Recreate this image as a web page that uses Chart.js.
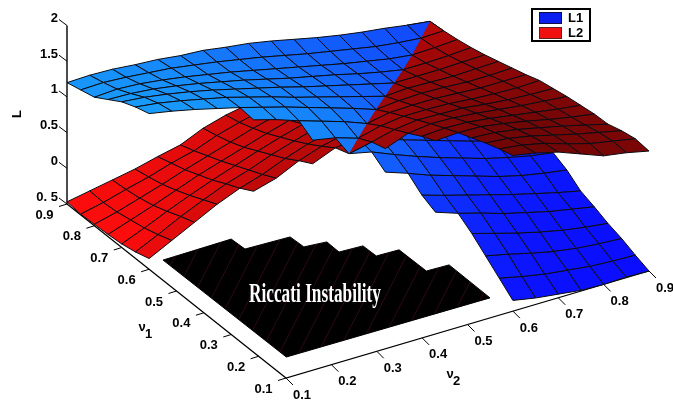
<!DOCTYPE html>
<html>
<head>
<meta charset="utf-8">
<style>
html, body { margin: 0; padding: 0; background: #fff; }
#wrap { width: 673px; height: 401px; position: relative; }
</style>
<script src="https://cdn.jsdelivr.net/npm/chart.js@4"></script>
</head>
<body>
<div id="wrap"><canvas id="chart" width="673" height="401"></canvas></div>
<script>
const v1Values = [0.1,0.15,0.2,0.25,0.3,0.35,0.4,0.45,0.5,0.55,0.6,0.65,0.7,0.75,0.8,0.85,0.9];
const v2Values = [0.1,0.15,0.2,0.25,0.3,0.35,0.4,0.45,0.5,0.55,0.6,0.65,0.7,0.75,0.8,0.85,0.9];
const v1Ticks = [0.1,0.2,0.3,0.4,0.5,0.6,0.7,0.8,0.9];
const v2Ticks = [0.1,0.2,0.3,0.4,0.5,0.6,0.7,0.8,0.9];
const zTicks = [-0.5,0,0.5,1,1.5,2];
const zTickLabels = ['0. 5','0','0.5','1','1.5','2'];

const N = null;
// rows: v1 from 0.1 to 0.9, columns: v2 from 0.1 to 0.9, null = unstable
const L1 = [
  [N,N,N,N,N,N,N,N,N,N,-.35,-.41,-.45,-.49,-.50,-.49,-.50],
  [N,N,N,N,N,N,N,N,N,N,-.19,-.26,-.32,-.36,-.40,-.42,-.43],
  [N,N,N,N,N,N,N,N,N,N,-.03,-.10,-.18,-.25,-.30,-.33,-.35],
  [N,N,N,N,N,N,N,N,N,N,.13,.04,-.05,-.13,-.20,-.25,-.29],
  [N,N,N,N,N,N,N,N,N,.37,.26,.17,.07,-.01,-.09,-.15,-.21],
  [N,N,N,N,N,N,N,N,N,.46,.36,.27,.18,.09,.01,-.07,-.14],
  [N,N,N,N,N,N,N,N,.72,.61,.49,.39,.29,.19,.11,.05,0],
  [N,N,N,N,N,N,N,.92,.85,.72,.60,.49,.39,.29,.21,.14,.09],
  [N,N,N,N,N,N,1.05,.99,.89,.79,.68,.58,.48,.38,.29,.22,.15],
  [N,N,N,N,1.37,1.28,1.17,1.07,.97,.85,.75,.65,.55,.45,.36,.28,.22],
  [1.68,1.62,1.55,1.47,1.39,1.30,1.21,1.11,1.01,.91,.80,.70,.60,.50,.41,.33,.28],
  [1.62,1.58,1.52,1.45,1.38,1.29,1.20,1.10,1.01,.92,.83,.74,.64,.55,.46,.39,.33],
  [1.54,1.51,1.46,1.40,1.33,1.25,1.17,1.09,1.00,.92,.84,.76,.68,.60,.51,.44,.38],
  [1.42,1.41,1.38,1.33,1.27,1.20,1.13,1.05,.97,.90,.83,.75,.68,.62,.55,.49,.43],
  [1.30,1.32,1.30,1.26,1.21,1.15,1.09,1.02,.95,.88,.81,.74,.68,.62,.58,.53,.48],
  [1.25,1.26,1.24,1.21,1.18,1.13,1.08,1.02,.96,.89,.82,.76,.70,.64,.60,.57,.52],
  [1.20,1.21,1.20,1.17,1.15,1.11,1.09,1.04,1.00,.94,.87,.80,.74,.69,.65,.60,.56]
];
const L2 = [
  [N,N,N,N,N,N,N,N,N,N,1.68,1.62,1.54,1.42,1.30,1.25,1.18],
  [N,N,N,N,N,N,N,N,N,N,1.62,1.58,1.51,1.41,1.32,1.26,1.20],
  [N,N,N,N,N,N,N,N,N,N,1.55,1.52,1.46,1.38,1.30,1.23,1.16],
  [N,N,N,N,N,N,N,N,N,N,1.47,1.45,1.40,1.33,1.26,1.18,1.10],
  [N,N,N,N,N,N,N,N,N,1.37,1.39,1.38,1.33,1.27,1.20,1.14,1.09],
  [N,N,N,N,N,N,N,N,N,1.28,1.30,1.29,1.25,1.20,1.15,1.10,1.06],
  [N,N,N,N,N,N,N,N,1.05,1.17,1.21,1.20,1.17,1.13,1.09,1.06,1.03],
  [N,N,N,N,N,N,N,.92,.99,1.07,1.11,1.10,1.09,1.05,1.02,1.00,.99],
  [N,N,N,N,N,N,.72,.85,.89,.97,1.01,1.01,1.00,.97,.95,.94,.95],
  [N,N,N,N,.37,.46,.61,.72,.79,.85,.91,.92,.92,.90,.88,.88,.88],
  [-.35,-.19,-.03,.13,.26,.36,.49,.60,.68,.75,.80,.83,.84,.83,.81,.81,.82],
  [-.41,-.26,-.10,.04,.17,.27,.39,.49,.58,.65,.70,.74,.76,.75,.74,.75,.76],
  [-.45,-.32,-.18,-.05,.07,.18,.29,.39,.48,.55,.60,.64,.68,.68,.68,.69,.70],
  [-.47,-.36,-.25,-.13,-.01,.09,.19,.29,.38,.45,.50,.55,.60,.62,.62,.63,.65],
  [-.48,-.40,-.30,-.20,-.09,.01,.11,.21,.29,.36,.41,.46,.51,.55,.58,.59,.61],
  [-.49,-.42,-.33,-.25,-.15,-.07,.05,.14,.22,.28,.33,.39,.44,.49,.53,.57,.58],
  [-.47,-.41,-.35,-.29,-.21,-.14,0,.09,.15,.22,.28,.33,.38,.43,.48,.52,.56]
];

// unstable region outline on the floor
const unstableV1 = [.617,.620,.573,.569,.522,.516,.470,.467,.420,.418,.320,.318,.167,.170];
const unstableV2 = [.141,.293,.295,.392,.394,.441,.440,.491,.492,.541,.542,.591,.590,.143];
const unstableZ = -0.5;
// faint lines running over the unstable region
const hatchStartV1 = [.593,.543,.493,.443,.393,.343,.293,.243,.193,.17,.17,.17,.17,.17,.17,.17,.17,.17];
const hatchStartV2 = [.143,.143,.143,.143,.143,.143,.143,.143,.143,.17,.22,.27,.32,.37,.42,.47,.52,.57];
const hatchEndV1 = [.62,.62,.62,.595,.57,.57,.542,.52,.491,.47,.441,.42,.391,.341,.32,.29,.24,.19];
const hatchEndV2 = [.17,.22,.27,.295,.32,.37,.392,.42,.441,.47,.491,.52,.541,.541,.57,.59,.59,.59];

// shading tables over a coarse 5x5 grid (v1 rows low to high, v2 columns low to high)
const blueGreen = [
  [30,30,25,15,12],
  [80,80,60,25,15],
  [160,150,125,50,30],
  [155,140,120,85,60],
  [150,135,110,90,70]
];
const redLevel = [
  [110,110,110,110,125],
  [140,140,140,110,125],
  [210,175,175,130,135],
  [255,225,190,150,145],
  [255,235,200,180,185]
];

// box projection, the corners of the box in canvas coordinates
const origin = {x: 286, y: 378};
const perV1 = {x: -219/0.8, y: -174/0.8};
const perV2 = {x: 363/0.8, y: -107/0.8};
const perZ = -71.4;
const meshColor = '#0b0b12';

function project(a, b, z) {
  return {
    x: origin.x + (a-0.1)*perV1.x + (b-0.1)*perV2.x,
    y: origin.y + (a-0.1)*perV1.y + (b-0.1)*perV2.y + (z+0.5)*perZ
  };
}

function depth(a, b, z) {
  return 363*(a-0.1)/0.8 + 219*(b-0.1)/0.8 - 486.5*(z+0.5)/2.5;
}

function shade(table, j, i) {
  const s = j/16*4, t = i/16*4;
  const s0 = Math.min(3, Math.floor(s)), t0 = Math.min(3, Math.floor(t));
  const fs = s-s0, ft = t-t0;
  return table[s0][t0]*(1-fs)*(1-ft) + table[s0+1][t0]*fs*(1-ft) + table[s0][t0+1]*(1-fs)*ft + table[s0+1][t0+1]*fs*ft;
}

function node(grid, j, i) {
  return project(v1Values[j], v2Values[i], grid[j][i]);
}

function lineDataset(pts, color, width) {
  return {data: pts, showLine: true, fill: false, tension: 0, borderColor: color, borderWidth: width, pointRadius: 0};
}

function fillDataset(pts, fillColor, borderColor, width) {
  return {data: pts, showLine: true, fill: 'shape', tension: 0, backgroundColor: fillColor, borderColor: borderColor, borderWidth: width, pointRadius: 0};
}

// keep(j,i): which cells go in; cut: 'upper' or 'lower' half of the diagonal cells, or none
function quads(grid, colorFn, keep, cut) {
  const out = [];
  for (let j = 0; j < 16; j++) {
    for (let i = 0; i < 16; i++) {
      if (!keep(j, i)) continue;
      const z = [grid[j][i], grid[j][i+1], grid[j+1][i+1], grid[j+1][i]];
      if (z.some(v => v === null)) continue;
      const d = depth((v1Values[j]+v1Values[j+1])/2, (v2Values[i]+v2Values[i+1])/2, (z[0]+z[1]+z[2]+z[3])/4);
      const color = colorFn(j+0.5, i+0.5);
      let sets;
      if (cut && j === i) {
        // surfaces cross along v1 = v2, so only half of this cell shows
        const mid = cut === 'upper' ? node(grid, j+1, i) : node(grid, j, i+1);
        const a = node(grid, j, i), c = node(grid, j+1, i+1);
        sets = [lineDataset([a, mid, c], meshColor, 1), fillDataset([a, mid, c, a], color, 'rgba(0,0,0,0)', 0)];
      } else {
        const pts = [node(grid,j,i), node(grid,j,i+1), node(grid,j+1,i+1), node(grid,j+1,i)];
        pts.push(pts[0]);
        sets = [fillDataset(pts, color, meshColor, 1)];
      }
      out.push({d, sets});
    }
  }
  return out.sort((p, q) => p.d - q.d);
}

const blueColor = (j,i) => { const g = shade(blueGreen,j,i); return `rgb(${Math.round(10+g*0.09)},${Math.round(g)},${Math.round(255-g*0.03)})`; };
const redColor = (j,i) => { const r = shade(redLevel,j,i); return `rgb(${Math.round(r)},${Math.round(r*0.05)},${Math.round(r*0.05)})`; };

// first dataset ends up on top: upper halves first, then what lies underneath
const layers = [
  quads(L1, blueColor, (j,i) => j >= i, 'upper'),
  quads(L2, redColor, (j,i) => i >= j, 'lower'),
  quads(L2, redColor, (j,i) => j >= i),
  quads(L1, blueColor, (j,i) => i >= j)
];
const datasets = [];
layers.forEach(layer => layer.forEach(q => datasets.push(...q.sets)));

// floor patch
hatchStartV1.forEach((a, k) => {
  datasets.push(lineDataset([project(a, hatchStartV2[k], unstableZ), project(hatchEndV1[k], hatchEndV2[k], unstableZ)], 'rgba(110,20,70,0.7)', 0.6));
});
const unstablePts = unstableV1.map((a, k) => project(a, unstableV2[k], unstableZ));
unstablePts.push(unstablePts[0]);
datasets.push(fillDataset(unstablePts, '#000', '#000', 1));

// axes
const axisColor = '#000';
datasets.push(lineDataset([project(0.9,0.1,-0.5), project(0.9,0.1,2)], axisColor, 1.4));
datasets.push(lineDataset([project(0.9,0.1,-0.5), project(0.1,0.1,-0.5), project(0.1,0.9,-0.5)], axisColor, 1.2));
zTicks.forEach(z => {
  const p = project(0.9,0.1,z);
  datasets.push(lineDataset([p, {x: p.x-8, y: p.y-6}], axisColor, 1));
});
v1Ticks.forEach(a => {
  const p = project(a,0.1,-0.5);
  datasets.push(lineDataset([p, {x: p.x-8, y: p.y+2.5}], axisColor, 1));
});
v2Ticks.forEach(b => {
  const p = project(0.1,b,-0.5);
  datasets.push(lineDataset([p, {x: p.x+7, y: p.y+7}], axisColor, 1));
});

const textPlugin = {
  id: 'textPlugin',
  afterDraw(chart) {
    const ctx = chart.ctx;
    const sx = chart.scales.x, sy = chart.scales.y;
    const X = v => sx.getPixelForValue(v), Y = v => sy.getPixelForValue(v);
    ctx.save();
    ctx.fillStyle = '#000';
    ctx.textBaseline = 'middle';
    ctx.font = 'bold 13px "Liberation Sans"';

    ctx.textAlign = 'right';
    zTicks.forEach((z, k) => {
      const p = project(0.9,0.1,z);
      ctx.fillText(zTickLabels[k], X(p.x-9), Y(p.y-7));
    });
    ctx.textAlign = 'center';
    v1Ticks.forEach(a => {
      const p = project(a,0.1,-0.5);
      ctx.fillText(a.toFixed(1), X(p.x-22.5), Y(p.y+11));
    });
    v2Ticks.forEach(b => {
      const p = project(0.1,b,-0.5);
      ctx.fillText(b.toFixed(1), X(p.x+16), Y(p.y+17));
    });

    // axis names
    ctx.fillText('ν', X(142), Y(327));
    ctx.fillText('1', X(148.5), Y(334));
    ctx.fillText('ν', X(450), Y(374));
    ctx.fillText('2', X(456.5), Y(381));
    ctx.save();
    ctx.translate(X(17), Y(114));
    ctx.rotate(-Math.PI/2);
    ctx.fillText('L', 0, 0);
    ctx.restore();

    // annotation
    ctx.fillStyle = '#fff';
    ctx.textAlign = 'left';
    ctx.textBaseline = 'alphabetic';
    ctx.font = 'bold 28px "Liberation Serif"';
    ctx.fillText('Riccati Instability', X(249), Y(302), 132);

    // legend box
    ctx.fillStyle = '#fff';
    ctx.fillRect(X(532), Y(9), 58, 32);
    ctx.strokeStyle = '#000';
    ctx.lineWidth = 2;
    ctx.strokeRect(X(532), Y(9), 58, 32);
    ctx.lineWidth = 1;
    ctx.fillStyle = '#0a1ef0';
    ctx.fillRect(X(539.5), Y(12.5), 22, 11);
    ctx.strokeStyle = '#101040';
    ctx.strokeRect(X(539.5), Y(12.5), 22, 11);
    ctx.fillStyle = '#f01010';
    ctx.fillRect(X(539.5), Y(27.5), 22, 11);
    ctx.strokeStyle = '#602020';
    ctx.strokeRect(X(539.5), Y(27.5), 22, 11);
    ctx.fillStyle = '#000';
    ctx.font = 'bold 13px "Liberation Sans"';
    ctx.textBaseline = 'middle';
    ctx.fillText('L1', X(568), Y(18));
    ctx.fillText('L2', X(568), Y(33));
    ctx.restore();
  }
};

new Chart(document.getElementById('chart'), {
  type: 'scatter',
  data: {datasets: datasets},
  options: {
    responsive: false,
    animation: false,
    layout: {padding: 0},
    clip: false,
    plugins: {legend: {display: false}, tooltip: {enabled: false}, title: {display: false}},
    scales: {
      x: {type: 'linear', display: false, min: 0, max: 673},
      y: {type: 'linear', display: false, min: 0, max: 401, reverse: true}
    }
  },
  plugins: [textPlugin]
});
</script>
</body>
</html>
